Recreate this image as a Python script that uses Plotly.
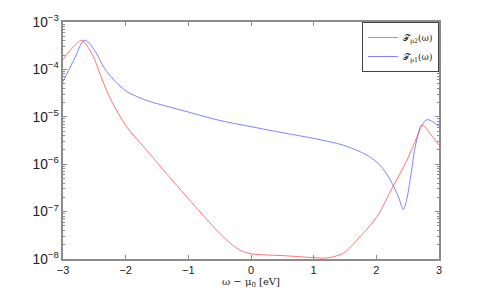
import plotly.graph_objects as go

# Tp2 (red)
x_p2 = [-3.0, -2.86, -2.70, -2.62, -2.51, -2.43, -2.35, -2.25, -2.12, -1.98, -1.72, -1.40,
        -1.02, -0.73, -0.50, -0.30, -0.15, 0.0, 0.55, 1.0, 1.2, 1.47, 1.74, 2.01, 2.25, 2.49,
        2.65, 2.73, 2.87, 3.0]
y_p2 = [1.6e-4, 2.75e-4, 4.1e-4, 3.2e-4, 1.8e-4, 9.5e-5, 5.0e-5, 2.5e-5, 1.2e-5, 6.0e-6,
        2.4e-6, 7.6e-7, 2.0e-7, 7.4e-8, 3.5e-8, 2.0e-8, 1.48e-8, 1.29e-8, 1.17e-8, 1.07e-8,
        1.05e-8, 1.32e-8, 2.95e-8, 7.8e-8, 3.1e-7, 1.23e-6, 3.8e-6, 6.8e-6, 4.2e-6, 2.5e-6]

# Tp1 (blue)
x_p1 = [-3.0, -2.83, -2.66, -2.56, -2.46, -2.35, -2.25, -2.11, -1.98, -1.66, -1.29, -1.0,
        -0.52, 0.0, 0.55, 1.0, 1.48, 1.85, 2.06, 2.22, 2.35, 2.43, 2.48, 2.54, 2.62, 2.70,
        2.81, 3.0]
y_p1 = [5.5e-5, 1.55e-4, 4.1e-4, 3.3e-4, 2.1e-4, 1.12e-4, 7.4e-5, 4.7e-5, 3.4e-5, 2.2e-5,
        1.6e-5, 1.26e-5, 8.5e-6, 6.2e-6, 4.5e-6, 3.5e-6, 2.5e-6, 1.55e-6, 9.5e-7, 4.7e-7,
        2.1e-7, 1.12e-7, 1.7e-7, 4.7e-7, 2.3e-6, 5.6e-6, 8.7e-6, 6.3e-6]

x_ticks = [-3, -2, -1, 0, 1, 2, 3]
x_ticklabels = ["\u22123", "\u22122", "\u22121", "0", "1", "2", "3"]

fig = go.Figure()
fig.add_trace(go.Scatter(x=x_p2, y=y_p2, mode="lines", name="\U0001D4AF<sub>p2</sub>(\u03c9)",
                         line=dict(color="rgba(255,70,70,0.75)", width=1, shape="spline", smoothing=0.9)))
fig.add_trace(go.Scatter(x=x_p1, y=y_p1, mode="lines", name="\U0001D4AF<sub>p1</sub>(\u03c9)",
                         line=dict(color="rgba(90,90,255,0.75)", width=1, shape="spline", smoothing=0.9)))

axis_common = dict(showline=True, linecolor="#8c8c8c", linewidth=2, mirror="allticks",
                   ticks="inside", tickcolor="#8c8c8c", showgrid=False, zeroline=False,
                   automargin=False,
                   tickfont=dict(family="Liberation Sans, Arial", size=11, color="#222"))

fig.update_xaxes(range=[-3, 3], tickvals=x_ticks, ticktext=x_ticklabels, ticklen=4,
                 title=dict(text="\u03c9 \u2212 \u03bc<sub>0</sub> [eV]", standoff=0,
                            font=dict(family="DejaVu Serif, Liberation Serif", size=10, color="#222")),
                 **axis_common)
fig.update_yaxes(type="log", range=[-8, -3], dtick=1, exponentformat="power", ticklen=4,
                 minor=dict(ticks="inside", ticklen=2, tickcolor="#8c8c8c"),
                 **axis_common)

fig.update_layout(
    template="none",
    width=485, height=292,
    margin=dict(l=55, r=54, t=14, b=41, autoexpand=False),
    paper_bgcolor="white", plot_bgcolor="white",
    showlegend=True,
    legend=dict(x=1, y=1, xanchor="right", yanchor="top", bgcolor="white",
                bordercolor="#444", borderwidth=1, itemwidth=30, tracegroupgap=0,
                font=dict(family="DejaVu Serif, Liberation Serif", size=9, color="#222")),
)

fig.write_html("out.html")
